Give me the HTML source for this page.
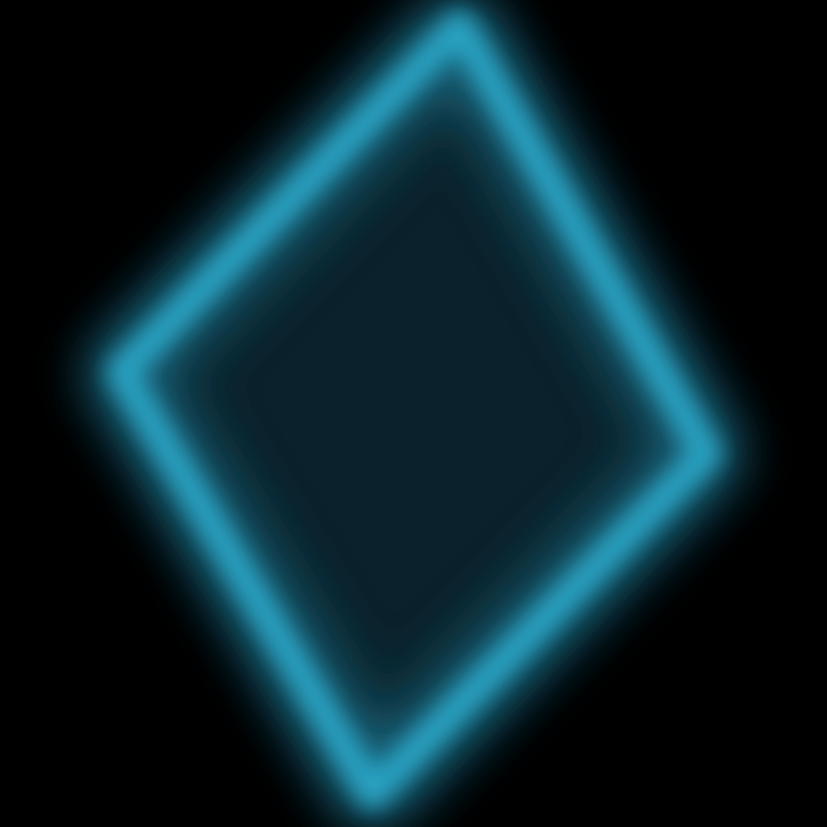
<!DOCTYPE html>
<html>
<head>
<meta charset="utf-8">
<style>
html,body{margin:0;padding:0;background:#000;}
svg{display:block;}
</style>
</head>
<body>
<svg id="chart" width="827" height="827" viewBox="0 0 827 827" xmlns="http://www.w3.org/2000/svg">
<defs>
<filter id="blurWide" x="-30%" y="-30%" width="160%" height="160%"><feGaussianBlur stdDeviation="26"/></filter>
<filter id="blurMid" x="-30%" y="-30%" width="160%" height="160%"><feGaussianBlur stdDeviation="11"/></filter>
<filter id="blurFill" x="-30%" y="-30%" width="160%" height="160%"><feGaussianBlur stdDeviation="40"/></filter>
</defs>
<rect width="827" height="827" fill="#000"/>
<g id="layer"></g>
</svg>
<script>
const vertexX = [462, 722, 370, 106];
const vertexY = [6, 456, 814, 370];
const svgNS = 'http://www.w3.org/2000/svg';
const layer = document.getElementById('layer');
function pts(inset){
  const cx = vertexX.reduce((a,b)=>a+b,0)/vertexX.length;
  const cy = vertexY.reduce((a,b)=>a+b,0)/vertexY.length;
  return vertexX.map((x,i)=>{
    const y = vertexY[i];
    return (x+(cx-x)*inset).toFixed(1)+','+(y+(cy-y)*inset).toFixed(1);
  }).join(' ');
}
function poly(name, inset, fill, stroke, sw, filter, op){
  const p = document.createElementNS(svgNS,'polygon');
  
  
  p.setAttribute('points', pts(inset));
  p.setAttribute('fill', fill);
  p.setAttribute('stroke', stroke);
  p.setAttribute('stroke-width', sw);
  p.setAttribute('stroke-linejoin', 'round');
  if(filter) p.setAttribute('filter', 'url(#'+filter+')');
  p.setAttribute('opacity', op);
  layer.appendChild(p);
}
poly('inner-fill', 0.06, '#072630', 'none', 0, 'blurFill', 0.9);
poly('inner-halo', 0.06, 'none', '#124e5e', 90, 'blurWide', 0.7);
poly('outer-glow', 0.05, 'none', '#1a7f9c', 44, 'blurWide', 0.75);
poly('edge-glow', 0.05, 'none', '#2ca6c6', 30, 'blurMid', 0.95);
</script>
</body>
</html>
